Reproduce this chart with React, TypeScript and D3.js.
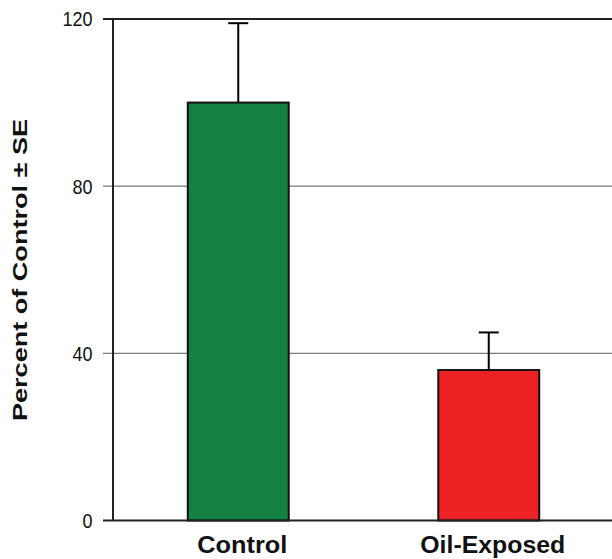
import React from "react";
import * as d3 from "d3";

const categories = ["Control", "Oil-Exposed"];
const values = [100, 36];
const errors = [19, 9];
const barColors = ["#128142", "#ED2224"];
const yTicks = [0, 40, 80, 120];

const W = 612;
const H = 559;
const left = 113;
const top = 19;
const bottom = 520.5;

export default function App() {
  const y = d3.scaleLinear().domain([0, 120]).range([bottom, top]);
  const x = d3.scaleBand<string>().domain(categories).range([left, 614]).padding(0);
  const barW = x.bandwidth() * 0.403;
  const font = "'Liberation Sans', Arial, Helvetica, sans-serif";
  return (
    <svg width={W} height={H} style={{ position: "absolute", left: 0, top: 0, background: "#fff" }}>
      {yTicks.map((t) => {
        const yy = y(t);
        const main = t === 0 || t === 120;
        return (
          <g key={t}>
            <line x1={103} x2={main ? left : W} y1={yy} y2={yy} stroke={main ? "#222" : "#7a7a7a"} strokeWidth={main ? 2 : 1.3} />
            <text x={92.5} y={yy} dy="0.36em" textAnchor="end" fontFamily={font} fontSize={20.5} fill="#111"
              textLength={String(t).length * 10} lengthAdjust="spacingAndGlyphs">
              {t}
            </text>
          </g>
        );
      })}
      {categories.map((c, i) => {
        const x0 = (x(c) as number) + (x.bandwidth() - barW) / 2;
        const cx = x0 + barW / 2;
        return (
          <g key={c}>
            <line x1={cx} x2={cx} y1={y(values[i])} y2={y(values[i] + errors[i])} stroke="#000" strokeWidth={2} />
            <line x1={cx - 10} x2={cx + 10} y1={y(values[i] + errors[i])} y2={y(values[i] + errors[i])} stroke="#000" strokeWidth={2} />
            <rect x={x0} y={y(values[i])} width={barW} height={y(0) - y(values[i])} fill={barColors[i]} stroke="#111" strokeWidth={2} />
            <text
              x={cx + 4}
              y={552.5}
              textAnchor="middle"
              fontFamily={font}
              fontWeight="bold"
              fontSize={23}
              fill="#111"
              textLength={i === 0 ? 90 : 145}
              lengthAdjust="spacingAndGlyphs"
            >
              {c}
            </text>
          </g>
        );
      })}
      <line x1={left} x2={W} y1={y(120)} y2={y(120)} stroke="#222" strokeWidth={2} />
      <line x1={left} x2={W} y1={y(0)} y2={y(0)} stroke="#222" strokeWidth={2} />
      <line x1={left} x2={left} y1={y(120)} y2={y(0)} stroke="#222" strokeWidth={2} />
      <text
        transform={`translate(27,270) rotate(-90)`}
        textAnchor="middle"
        fontFamily={font}
        fontWeight="bold"
        fontSize={21}
        fill="#111"
        textLength={302}
        lengthAdjust="spacingAndGlyphs"
      >
        Percent of Control ± SE
      </text>
    </svg>
  );
}
